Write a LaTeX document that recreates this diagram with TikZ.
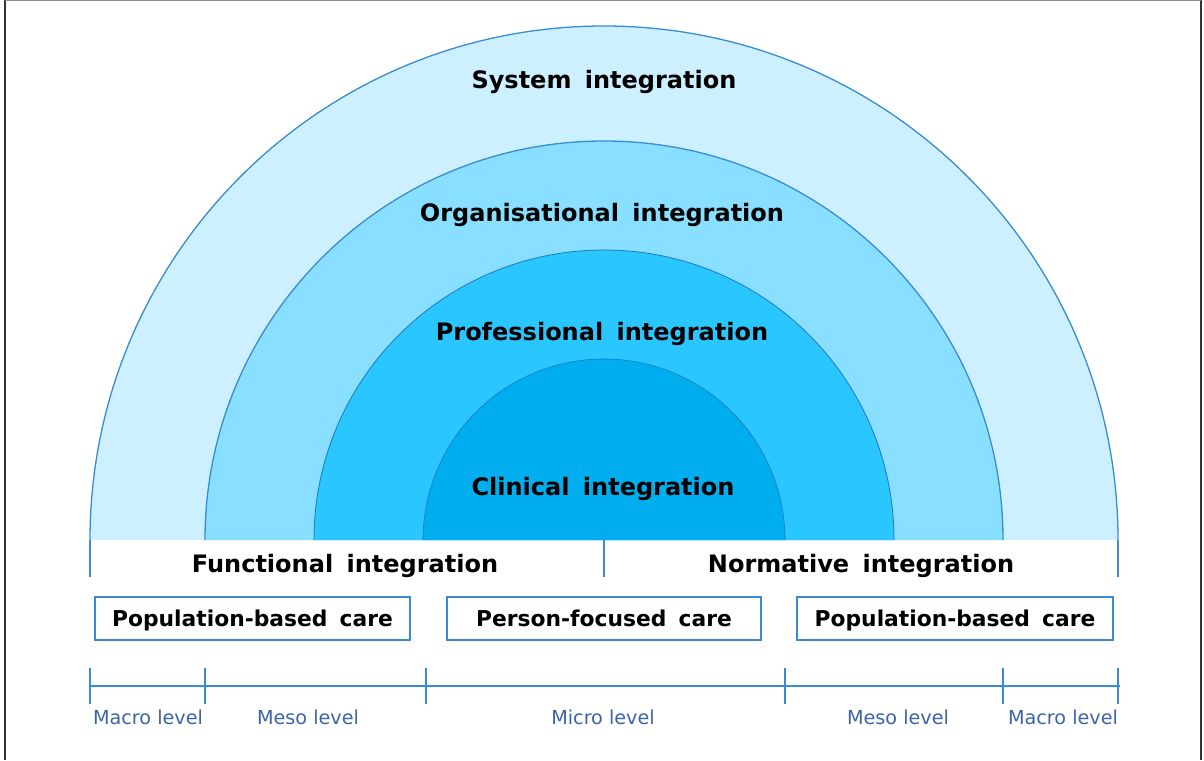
\documentclass[tikz,border=0pt]{standalone}
\usepackage{fontspec}
\setmainfont{DejaVu Sans}
\newfontfamily\widefont[WordSpace=1.6]{DejaVu Sans}
\begin{document}
\begin{tikzpicture}[x=1pt,y=-1pt,
  ring/.style={draw=arcblue,line width=1.3pt},
  title/.style={font=\widefont\bfseries\fontsize{24}{26}\selectfont,text=black,inner sep=0pt},
  carebox/.style={draw=boxblue,line width=1.6pt,minimum height=43pt,inner sep=0pt,text height=18pt,text depth=3pt,font=\widefont\bfseries\fontsize{21.8}{24}\selectfont},
  lvl/.style={font=\fontsize{19.2}{21}\selectfont,text=lvlblue,inner sep=0pt},
  scaleline/.style={draw=boxblue,line width=1.3pt}]
\definecolor{c1}{RGB}{204,240,255}
\definecolor{c2}{RGB}{136,223,255}
\definecolor{c3}{RGB}{41,198,255}
\definecolor{c4}{RGB}{0,174,239}
\definecolor{arcblue}{RGB}{58,140,210}
\definecolor{arcdark}{RGB}{30,120,190}
\definecolor{boxblue}{RGB}{58,140,210}
\definecolor{lvlblue}{RGB}{60,100,170}
\useasboundingbox (0,0) rectangle (1204,760);
\fill[white] (0,0) rectangle (1204,760);
% frame
\draw[black!80,line width=2pt] (5,0) -- (5,760);
\draw[black!80,line width=2pt] (1201,0) -- (1201,760);
\draw[black!45,line width=1.2pt] (5,0.6) -- (1201,0.6);
% semicircles
\fill[c1] (90,540) arc[start angle=180,end angle=360,radius=514] -- cycle;
\draw[ring] (90,540) arc[start angle=180,end angle=360,radius=514];
\fill[c2] (205,540) arc[start angle=180,end angle=360,radius=399] -- cycle;
\draw[ring] (205,540) arc[start angle=180,end angle=360,radius=399];
\fill[c3] (314,540) arc[start angle=180,end angle=360,radius=290] -- cycle;
\draw[ring,draw=arcdark,line width=0.8pt] (314,540) arc[start angle=180,end angle=360,radius=290];
\fill[c4] (423,540) arc[start angle=180,end angle=360,radius=181] -- cycle;
\draw[ring,draw=arcdark,line width=0.6pt] (423,540) arc[start angle=180,end angle=360,radius=181];
% ring labels
\node[title] (sys) at (604,82) {System integration};
\node[title] (org) at (602,215) {Organisational integration};
\node[title] (pro) at (602,334) {Professional integration};
\node[title] (cli) at (603,489) {Clinical integration};
% dividers
\coordinate (dl1) at (90,540); \coordinate (dl2) at (90,577);
\coordinate (dm1) at (604,540); \coordinate (dm2) at (604,577);
\coordinate (dr1) at (1118,540); \coordinate (dr2) at (1118,577);
\draw[scaleline] (dl1) -- (dl2);
\draw[scaleline] (dm1) -- (dm2);
\draw[scaleline] (dr1) -- (dr2);
\node[title] (fun) at (345,566) {Functional integration};
\node[title] (nor) at (861,566) {Normative integration};
% care boxes
\node[carebox,minimum width=315pt] (pbl) at (252.5,618.5) {Population-based care};
\node[carebox,minimum width=314pt] (pfc) at (604,618.5) {Person-focused care};
\node[carebox,minimum width=316pt] (pbr) at (955,618.5) {Population-based care};
% scale
\foreach \n/\x in {t1/90,t2/205,t3/426,t4/785,t5/1003,t6/1118}{
  \coordinate (\n a) at (\x,668);
  \coordinate (\n b) at (\x,704);
  \draw[scaleline] (\n a) -- (\n b);
}
\coordinate (sL) at (90,686); \coordinate (sR) at (1120,686);
\draw[scaleline] (sL) -- (sR);
\node[lvl] (l1) at (148,717) {Macro level};
\node[lvl] (l2) at (308,717) {Meso level};
\node[lvl] (l3) at (603,717) {Micro level};
\node[lvl] (l4) at (898,717) {Meso level};
\node[lvl] (l5) at (1063,717) {Macro level};
\end{tikzpicture}
\end{document}
